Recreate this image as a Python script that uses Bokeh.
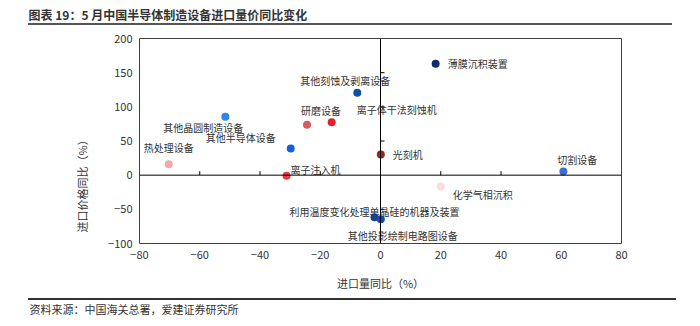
import math
from bokeh.plotting import figure
from bokeh.models import ColumnDataSource, Span, Title, FixedTicker, InlineStyleSheet
from bokeh.core.properties import value
from bokeh.embed import file_html
from bokeh.resources import INLINE

# ---- data ----
names = ["薄膜沉积装置", "其他刻蚀及剥离设备", "离子体干法刻蚀机", "研磨设备", "其他晶圆制造设备",
         "其他半导体设备", "热处理设备", "离子注入机", "光刻机", "切割设备", "化学气相沉积",
         "利用温度变化处理单晶硅的机器及装置", "其他投影绘制电路图设备"]
volume_yoy = [18.3, -7.7, -16.2, -24.4, -51.5, -29.8, -70.3, -31.2, 0.1, 60.7, 20.0, -2.0, 0.1]
price_yoy = [163.0, 120.5, 77.6, 73.7, 85.4, 39.0, 16.0, -1.0, 30.3, 5.5, -16.5, -61.6, -64.5]
x_ticks = [-80, -60, -40, -20, 0, 20, 40, 60, 80]
y_ticks = [-100, -50, 0, 50, 100, 150, 200]
title_text = "图表 19：5 月中国半导体制造设备进口量价同比变化"
source_text = "资料来源：中国海关总署，爱建证券研究所"
x_label = "进口量同比（%）"
y_label = "进口价格同比（%）"

# ---- styles ----
colors = ["#0B2E6E", "#1050A0", "#E0202A", "#D95B5E", "#2E86E8", "#1560E0", "#F2A7A8",
          "#E83A3E", "#9B2222", "#3A6FD6", "#FADDDD", "#1A3F8E", "#0D4CB8"]
label_dx = [42, -12, 65, 14, -22, -50, 0, 29, 27, 14, 42, 0, 22]
label_dy = [0, -12, -13, -14, 11, -11, -17, -6, 0, -12, 8, -6, 16]

FONT = "Noto Sans CJK SC"
TXT = "#333333"

p = figure(width=700, height=326, x_range=(-80, 80), y_range=(-100, 200),
           output_backend="svg", toolbar_location=None,
           min_border_left=139, min_border_right=79, min_border_top=38, min_border_bottom=83)
p.grid.visible = False
p.outline_line_color = "#404040"
p.outline_line_width = 1

for ax in (p.xaxis[0], p.yaxis[0]):
    ax.major_tick_out = 0
    ax.major_tick_in = 0
    ax.minor_tick_out = 0
    ax.minor_tick_in = 0
    ax.axis_line_color = None
    ax.major_label_text_font = FONT
    ax.major_label_text_font_size = "11px"
    ax.major_label_text_color = TXT
    ax.major_label_standoff = 7
p.xaxis[0].ticker = FixedTicker(ticks=x_ticks)
p.yaxis[0].ticker = FixedTicker(ticks=y_ticks)
p.xaxis[0].axis_label = x_label
p.xaxis[0].axis_label_text_font = FONT
p.xaxis[0].axis_label_text_font_size = "11px"
p.xaxis[0].axis_label_text_font_style = "normal"
p.xaxis[0].axis_label_text_color = TXT
p.xaxis[0].axis_label_standoff = 13

p.add_layout(Title(text=y_label, align="left", offset=11, text_font=FONT, text_font_size="11px",
                   text_font_style="normal", text_color=TXT, standoff=31), "left")

# chart title and source note
p.add_layout(Title(text=title_text, align="left", offset=-111, text_font=FONT, text_font_size="12px",
                   text_font_style="bold", text_color="#333333", standoff=0,
                   padding=dict(top=0, right=0, bottom=16, left=0)), "above")
p.add_layout(Title(text=source_text, align="left", offset=-110, text_font=FONT, text_font_size="11px",
                   text_font_style="normal", text_color="#333333", standoff=10), "below")

# rules under the title and above the source note (outside the plot frame)
p.stylesheets = [InlineStyleSheet(css="""
:host { position: relative; }
:host::before { content: ""; position: absolute; left: 28px; top: 23px; width: 644px; height: 2px;
                background: #555555; z-index: 10; }
:host::after { content: ""; position: absolute; left: 28px; top: 298px; width: 648px; height: 2px;
               background: #333333; z-index: 10; }
""")]

# zero-crossing axis lines with inner ticks
p.add_layout(Span(location=0, dimension="height", line_color="black", line_width=1))
p.add_layout(Span(location=0, dimension="width", line_color="black", line_width=1))
tick_len_y = 4 * 300 / 205  # 4 px in y data units
tick_len_x = 4 * 160 / 482  # 4 px in x data units
xt = [t for t in x_ticks if t not in (0, x_ticks[0], x_ticks[-1])]
yt = [t for t in y_ticks if t not in (0, y_ticks[0], y_ticks[-1])]
p.segment(x0=xt, y0=[0] * len(xt), x1=xt, y1=[tick_len_y] * len(xt), line_color="black", line_width=1)
p.segment(x0=[0] * len(yt), y0=yt, x1=[tick_len_x] * len(yt), y1=yt, line_color="black", line_width=1)

src = ColumnDataSource(dict(x=volume_yoy, y=price_yoy, name=names, color=colors,
                            dx=label_dx, dy=label_dy))
p.text(x="x", y="y", text="name", x_offset="dx", y_offset="dy", source=src,
       text_align="center", text_baseline="middle", text_font=value(FONT),
       text_font_size="10px", text_color=TXT)
p.scatter(x="x", y="y", source=src, size=8, fill_color="color", line_color=None)

open("out.html", "w").write(file_html(p, INLINE))
